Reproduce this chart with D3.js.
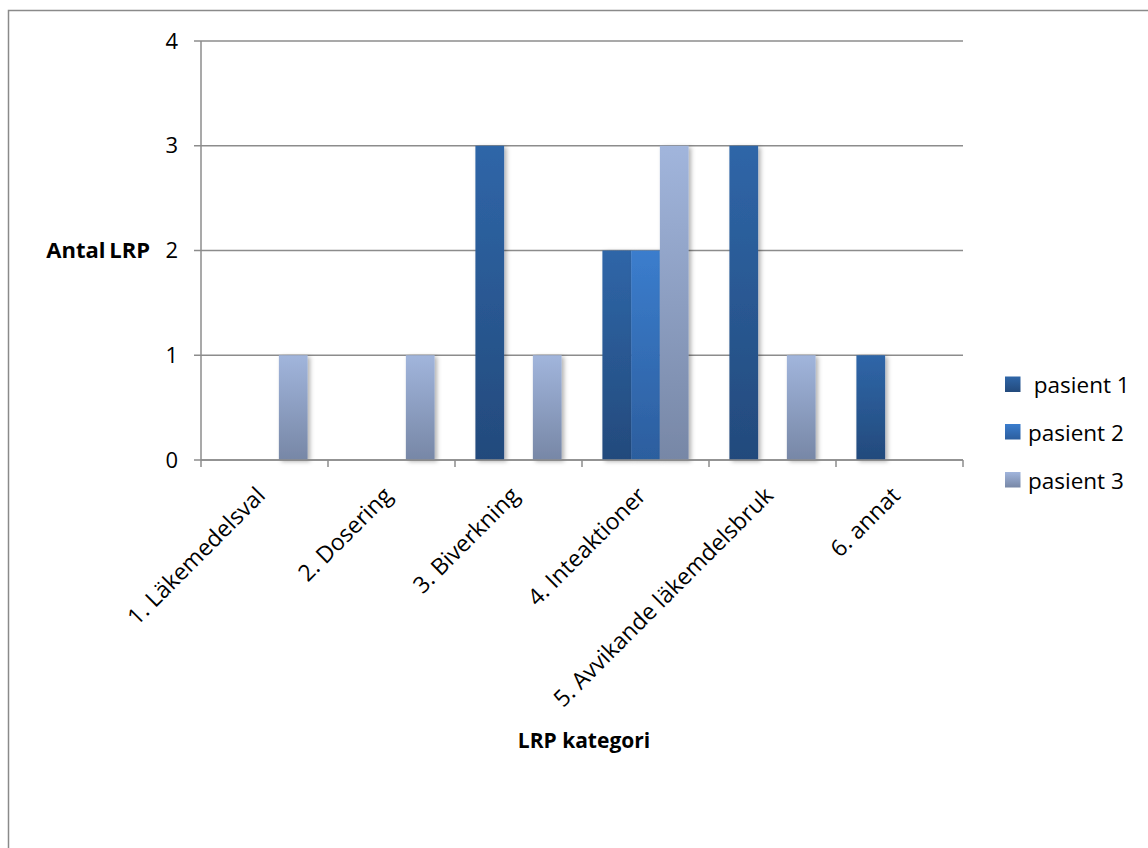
<!DOCTYPE html>
<html>
<head>
<meta charset="utf-8">
<script src="https://cdn.jsdelivr.net/npm/d3@7"></script>
<style>
  html, body { margin: 0; padding: 0; background: #fff; }
  svg { display: block; font-family: "Open Sans", sans-serif; }
</style>
</head>
<body>
<svg id="chart" width="1148" height="848"></svg>
<script>
const categories = ["1. Läkemedelsval", "2. Dosering", "3. Biverkning", "4. Inteaktioner", "5. Avvikande läkemdelsbruk", "6. annat"];
const seriesNames = ["pasient 1", "pasient 2", "pasient 3"];
const legendLabels = [" pasient 1", "pasient 2", "pasient 3"];
const pasient1 = [0, 0, 3, 2, 3, 1];
const pasient2 = [0, 0, 0, 2, 0, 0];
const pasient3 = [1, 1, 1, 3, 1, 0];
const yTicks = [0, 1, 2, 3, 4];

const seriesValues = [pasient1, pasient2, pasient3];
const gradTop = ["#2f66a8", "#3b7dcd", "#a1b5dc"];
const gradBot = ["#234a7c", "#2c5e9e", "#7787a6"];

const svg = d3.select("#chart");
const plot = { left: 201, right: 963, top: 41, bottom: 460 };

const defs = svg.append("defs");
seriesNames.forEach((s, i) => {
  const g = defs.append("linearGradient").attr("id", "grad" + i)
    .attr("x1", 0).attr("y1", 0).attr("x2", 0).attr("y2", 1);
  g.append("stop").attr("offset", "0%").attr("stop-color", gradTop[i]);
  g.append("stop").attr("offset", "100%").attr("stop-color", gradBot[i]);
});
const f = defs.append("filter").attr("id", "shadow")
  .attr("x", "-20%").attr("y", "-10%").attr("width", "160%").attr("height", "130%");
f.append("feDropShadow").attr("dx", 2.5).attr("dy", 1.5).attr("stdDeviation", 2)
  .attr("flood-color", "#000").attr("flood-opacity", 0.3);

// outer border
svg.append("rect").attr("x", 8.5).attr("y", 10.5).attr("width", 1200).attr("height", 900)
  .attr("fill", "none").attr("stroke", "#8a8a8a").attr("stroke-width", 1.5);

const x0 = d3.scaleBand().domain(categories).range([plot.left, plot.right]).paddingInner(0).paddingOuter(0);
const x1 = d3.scaleBand().domain(seriesNames).range([0, x0.bandwidth()]).paddingInner(0).paddingOuter(0.71);
const y = d3.scaleLinear().domain([0, 4]).range([plot.bottom, plot.top]);

// gridlines
svg.append("g").selectAll("line").data(yTicks).join("line")
  .attr("x1", plot.left - 7).attr("x2", plot.right)
  .attr("y1", d => y(d)).attr("y2", d => y(d))
  .attr("stroke", "#8c8c8c").attr("stroke-width", 1.5);

// y axis line
svg.append("line").attr("x1", plot.left).attr("x2", plot.left)
  .attr("y1", plot.top).attr("y2", plot.bottom)
  .attr("stroke", "#8c8c8c").attr("stroke-width", 1.5);

// y tick labels
svg.append("g").selectAll("text").data(yTicks).join("text")
  .attr("x", 178).attr("y", d => y(d) + 7.5)
  .attr("text-anchor", "end").attr("font-size", 22).attr("fill", "#000")
  .text(d => d);

// bars
const groups = svg.append("g").selectAll("g").data(categories).join("g")
  .attr("transform", d => `translate(${x0(d)},0)`);
seriesNames.forEach((s, si) => {
  groups.each(function(c, ci) {
    const v = seriesValues[si][ci];
    if (v > 0) {
      d3.select(this).append("rect")
        .attr("x", x1(s)).attr("width", x1.bandwidth())
        .attr("y", y(v)).attr("height", y(0) - y(v))
        .attr("fill", `url(#grad${si})`)
        .attr("filter", "url(#shadow)");
    }
  });
});

// x axis
const xAxis = d3.axisBottom(x0).tickSize(0).tickFormat("");
const xg = svg.append("g").attr("transform", `translate(0,${plot.bottom})`).call(xAxis);
xg.select(".domain").attr("stroke", "#8c8c8c").attr("stroke-width", 1.5).attr("d", `M${plot.left},0H${plot.right}`);
xg.selectAll(".tick").remove();
const boundaries = categories.map(c => x0(c)).concat([plot.right]);
svg.append("g").selectAll("line").data(boundaries).join("line")
  .attr("x1", d => d).attr("x2", d => d)
  .attr("y1", plot.bottom).attr("y2", plot.bottom + 7)
  .attr("stroke", "#8c8c8c").attr("stroke-width", 1.5);

// x labels
svg.append("g").selectAll("text").data(categories).join("text")
  .attr("transform", d => `translate(${x0(d) + x0.bandwidth() / 2 + 2},${497}) rotate(-45)`)
  .attr("text-anchor", "end").attr("font-size", 23).attr("fill", "#000")
  .text(d => d);

// axis titles
svg.append("text").attr("x", 150).attr("y", 258).attr("text-anchor", "end")
  .attr("font-size", 22).attr("font-weight", "bold").attr("fill", "#000").attr("word-spacing", "-2")
  .text("Antal LRP");
svg.append("text").attr("x", 584).attr("y", 748).attr("text-anchor", "middle")
  .attr("font-size", 21).attr("font-weight", "bold").attr("fill", "#000")
  .text("LRP kategori");

// legend
const legY = [384, 431.5, 479.5];
const leg = svg.append("g").selectAll("g").data(seriesNames).join("g")
  .attr("transform", (d, i) => `translate(1005,${legY[i]})`);
leg.append("rect").attr("x", 0).attr("y", -7.5).attr("width", 15.5).attr("height", 15.5)
  .attr("fill", (d, i) => `url(#grad${i})`);
leg.append("text").attr("x", 23).attr("y", 9).attr("font-size", 22.5).attr("fill", "#000")
  .attr("xml:space", "preserve").style("white-space", "pre")
  .text((d, i) => legendLabels[i]);
</script>
</body>
</html>
